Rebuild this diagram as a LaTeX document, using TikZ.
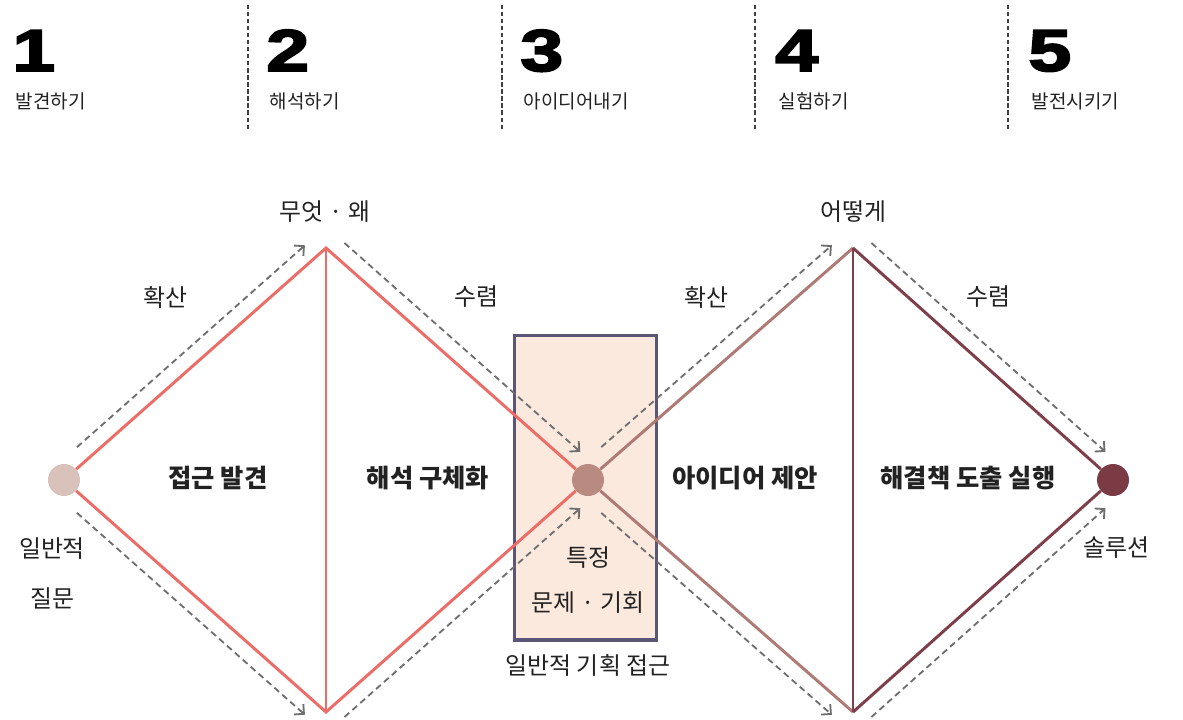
\documentclass[tikz,border=0pt]{standalone}
\usepackage{fontspec}
\setmainfont{Noto Sans CJK KR}
\newfontfamily\numfont{Liberation Sans}[FakeBold=3]
\usetikzlibrary{calc, arrows.meta}

\definecolor{inkA}{HTML}{222222}
\definecolor{redA}{HTML}{EC6D67}
\definecolor{mauveA}{HTML}{AE7A76}
\definecolor{maroonA}{HTML}{7E3F4A}
\definecolor{dotL}{HTML}{D9C1BC}
\definecolor{dotM}{HTML}{B98A82}
\definecolor{dotR}{HTML}{7B3B45}
\definecolor{peach}{HTML}{FCE9DD}
\definecolor{slate}{HTML}{5B5677}
\definecolor{flowgray}{HTML}{6E6E6E}

\begin{document}
\begin{tikzpicture}[x=0.025cm, y=-0.025cm,
  dot/.style={circle, inner sep=0pt, minimum size=0.8cm},
  edge/.style={line width=2.1pt},
  flow/.style={flowgray, line width=1.3pt, dash pattern=on 4.5pt off 3pt, -{Straight Barb[angle=90:7pt, line width=1.3pt]}},
  sep/.style={black!75, line width=1pt, densely dashed},
  num/.style={anchor=base west, font=\numfont\bfseries\fontsize{42}{42}\selectfont, black, xscale=1.3},
  step label/.style={anchor=base west, font=\fontsize{13.5}{13.5}\selectfont, inkA},
  lbl/.style={font=\fontsize{17}{17}\selectfont, inkA},
  phase/.style={font=\bfseries\fontsize{18}{18}\selectfont, inkA}]
\useasboundingbox (0,0) rectangle (1183,719);
\clip (0,0) rectangle (1183,719);

% header
\foreach \x in {248, 502, 755, 1008}
  \draw[sep] (\x,5) -- (\x,130);
\node[num] (n1) at (6,71) {1};
\node[num] (n2) at (260,71) {2};
\node[num] (n3) at (514,71) {3};
\node[num] (n4) at (769,71) {4};
\node[num] (n5) at (1022,71) {5};
\node[step label] (s1) at (11,108) {발견하기};
\node[step label] (s2) at (265,108) {해석하기};
\node[step label] (s3) at (519,108) {아이디어내기};
\node[step label] (s4) at (774,108) {실험하기};
\node[step label] (s5) at (1027,108) {발전시키기};

% box
\node[draw=slate, fill=peach, line width=2.8pt, minimum width=3.55cm, minimum height=7.6cm, inner sep=0pt] (box) at (585.5,487.5) {};

% diamonds
\node[dot, fill=dotL] (L) at (64,480) {};
\node[dot, fill=dotM] (M) at (588,480) {};
\node[dot, fill=dotR] (R) at (1113,480) {};
\coordinate (P1) at (326,248);
\coordinate (B1) at (326,712);
\coordinate (P2) at (853,248);
\coordinate (B2) at (853,712);

\draw[edge, redA] (L) -- (P1) -- (M);
\draw[edge, redA] (L) -- (B1) -- (M);
\draw[edge, redA] (P1) -- (B1);
\draw[edge, mauveA] (M) -- (P2);
\draw[edge, mauveA] (M) -- (B2);
\draw[edge, maroonA] (P2) -- (R);
\draw[edge, maroonA] (B2) -- (R);
\draw[edge, maroonA] (P2) -- (B2);

% dashed flows
\foreach \a/\b/\s/\e/\r in {L/P1/0.09/0.96/90, P1/M/0.03/0.93/90, L/B1/0.09/0.96/-90, B1/M/0.03/0.93/-90,
  M/P2/0.09/0.96/90, P2/R/0.03/0.93/90, M/B2/0.09/0.96/-90, B2/R/0.03/0.93/-90}
  \draw[flow] ($(\a)!\s!(\b)!0.4cm!\r:(\b)$) -- ($(\a)!\e!(\b)!0.4cm!\r:(\b)$);

% labels
\node[lbl] (why) at (325,212) {무엇 · 왜};
\node[lbl] (how) at (853,212) {어떻게};
\node[lbl] (div1) at (165,297) {확산};
\node[lbl] (con1) at (476,297) {수렴};
\node[lbl] (div2) at (706,297) {확산};
\node[lbl] (con2) at (988,297) {수렴};
\node[phase] (ph1) at (218,478) {접근 발견};
\node[phase] (ph2) at (428,478) {해석 구체화};
\node[phase] (ph3) at (745,478) {아이디어 제안};
\node[phase] (ph4) at (968,478) {해결책 도출 실행};
\node[lbl] (q1) at (52,549) {일반적};
\node[lbl] (q2) at (52,598) {질문};
\node[lbl] (sp1) at (588,558) {특정};
\node[lbl] (sp2) at (588,603) {문제 · 기회};
\node[lbl] (gen) at (588,665) {일반적 기획 접근};
\node[lbl] (sol) at (1116,548) {솔루션};
\end{tikzpicture}
\end{document}
